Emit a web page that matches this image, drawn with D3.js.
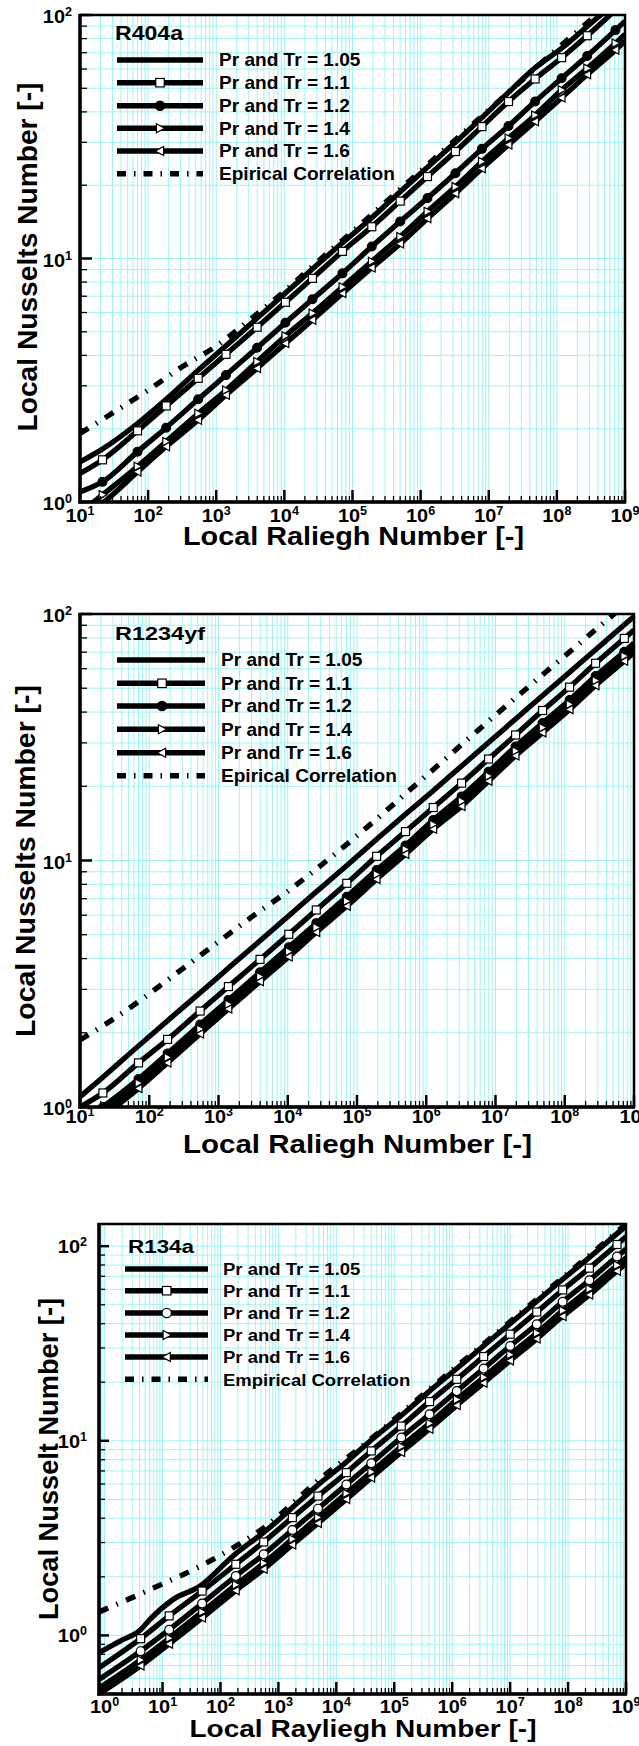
<!DOCTYPE html>
<html>
<head>
<meta charset="utf-8">
<script src="https://cdn.jsdelivr.net/npm/d3@7"></script>
<style>
  html, body { margin: 0; padding: 0; background: #fff; }
  svg { display: block; }
</style>
</head>
<body>
<svg id="fig" width="639" height="1746"></svg>
<script>
// ---------------- data ----------------
// R404a
const raR404a = [10, 21.4, 70.0, 184, 543, 1390, 3980, 10350, 25800, 71300, 192000, 501000, 1260000, 3240000, 7940000, 19500000, 47900000, 117500000, 278600000, 724400000, 1e9];
const nu105R404a = [1.46, 1.65, 2.10, 2.64, 3.48, 4.38, 5.69, 7.21, 9.06, 11.6, 14.7, 18.8, 23.7, 30.0, 37.9, 48.1, 60.7, 73.0, 89.7, 114, 126];
const nu110R404a = [1.31, 1.49, 1.96, 2.48, 3.22, 4.04, 5.22, 6.61, 8.29, 10.7, 13.5, 17.2, 21.7, 27.5, 34.8, 44.1, 54.6, 66.8, 82.2, 105, 115];
const nu120R404a = [1.10, 1.21, 1.61, 2.02, 2.64, 3.32, 4.30, 5.45, 6.80, 8.69, 11.2, 14.2, 17.7, 22.4, 28.2, 35.0, 44.1, 55.0, 67.9, 86.7, 94.4];
const nu140R404a = [0.902, 1.07, 1.40, 1.77, 2.31, 2.88, 3.77, 4.81, 5.96, 7.64, 9.73, 12.3, 15.6, 19.7, 25.0, 31.2, 38.8, 49.2, 60.4, 76.6, 83.4];
const nu160R404a = [0.851, 0.989, 1.33, 1.69, 2.17, 2.75, 3.54, 4.48, 5.59, 7.19, 9.16, 11.5, 14.6, 18.5, 23.4, 29.3, 36.5, 45.7, 56.9, 71.8, 78.2];
const raCorrR404a = [10, 31.6, 100, 316, 1000, 3160, 10000, 31600, 100000, 1e6, 1e7, 1e8, 1e9];
const nuCorrR404a = [1.91, 2.34, 2.88, 3.59, 4.37, 5.62, 7.33, 9.77, 12.9, 22.9, 40.7, 72.4, 126];

// R1234yf
const raR1234yf = [10, 21.4, 70.0, 184, 543, 1390, 3980, 10350, 25800, 71300, 192000, 501000, 1260000, 3240000, 7940000, 19500000, 47900000, 117500000, 278600000, 724400000, 1e9];
const nu105R1234yf = [1.10, 1.32, 1.77, 2.24, 2.91, 3.66, 4.73, 5.97, 7.46, 9.55, 12.2, 15.4, 19.2, 24.2, 30.1, 37.5, 46.7, 58.1, 71.6, 90.4, 97.7];
const nu110R1234yf = [1.00, 1.14, 1.51, 1.88, 2.45, 3.08, 3.97, 5.02, 6.30, 8.08, 10.4, 13.1, 16.4, 20.6, 25.8, 32.3, 40.6, 50.5, 63.1, 79.6, 86.1];
const nu120R1234yf = [0.851, 1.00, 1.30, 1.65, 2.16, 2.72, 3.52, 4.45, 5.57, 7.13, 9.15, 11.5, 14.6, 18.2, 22.9, 29.0, 36.1, 44.8, 56.0, 70.3, 76.2];
const nu140R1234yf = [0.817, 0.959, 1.25, 1.59, 2.07, 2.61, 3.38, 4.27, 5.35, 6.84, 8.78, 11.1, 14.0, 17.4, 22.0, 27.8, 34.6, 43.0, 53.7, 67.5, 73.1];
const nu160R1234yf = [0.780, 0.916, 1.19, 1.51, 1.98, 2.50, 3.23, 4.07, 5.11, 6.53, 8.39, 10.6, 13.4, 16.6, 21.0, 26.6, 33.0, 41.0, 51.3, 64.4, 69.8];
const raCorrR1234yf = [10, 31.6, 100, 316, 1000, 3160, 10000, 31600, 100000, 1e6, 1e7, 1e8, 1e9];
const nuCorrR1234yf = [1.87, 2.29, 2.88, 3.67, 4.68, 5.96, 7.50, 9.66, 12.6, 22.1, 38.9, 67.6, 117];

// R134a
const raR134a = [0.8, 4.18, 13.0, 48.2, 184, 558, 1740, 4820, 14900, 40100, 132000, 406000, 1200000, 3490000, 10000000, 28800000, 80700000, 233000000, 700000000, 1e9];
const nu110R134a = [0.682, 0.962, 1.26, 1.69, 2.32, 3.02, 4.03, 5.20, 6.86, 8.87, 11.9, 15.9, 20.7, 27.1, 35.3, 45.9, 59.6, 77.1, 102, 112];
const nu120R134a = [0.594, 0.830, 1.07, 1.46, 2.02, 2.61, 3.48, 4.48, 5.96, 7.67, 10.4, 13.7, 18.0, 23.5, 30.7, 39.7, 51.8, 66.8, 88.5, 96.6];
const nu140R134a = [0.536, 0.748, 0.968, 1.32, 1.82, 2.35, 3.13, 4.04, 5.37, 6.92, 9.35, 12.3, 16.3, 21.2, 27.7, 35.8, 46.7, 60.3, 79.8, 87.1];
const nu160R134a = [0.500, 0.698, 0.904, 1.23, 1.70, 2.19, 2.92, 3.77, 5.01, 6.46, 8.73, 11.5, 15.2, 19.8, 25.8, 33.4, 43.6, 56.2, 74.5, 81.3];
const ra105R134a = [0.8, 1.84, 4.18, 6.07, 15.2, 44.0, 165, 621, 2330, 5150, 14900, 40100, 132000, 406000, 1200000, 3490000, 10000000, 28800000, 80700000, 233000000, 700000000, 1e9];
const nu105R134a = [0.815, 0.935, 1.07, 1.21, 1.53, 1.79, 2.56, 3.47, 4.90, 6.03, 7.78, 10.1, 13.5, 18.0, 23.5, 30.8, 40.0, 52.1, 67.6, 87.5, 116, 127];
const raCorrR134a = [0.8, 6.07, 74.5, 617, 5130, 31600, 316000, 3160000, 31600000, 316000000, 1e9];
const nuCorrR134a = [1.32, 1.72, 2.46, 3.65, 6.34, 9.68, 17.3, 30.7, 54.6, 96.8, 130];

const seriesLabels = ['Pr and Tr = 1.05', 'Pr and Tr = 1.1', 'Pr and Tr = 1.2', 'Pr and Tr = 1.4', 'Pr and Tr = 1.6'];
const xTickExps = ['0', '1', '2', '3', '4', '5', '6', '7', '8', '9'];

// ---------------- layout ----------------
const FONT = "'Liberation Sans', Arial, Helvetica, sans-serif";
const GRID = '#9ef4f4';

function pairs(ra, nu) { return ra.map((r, i) => [r, nu[i]]); }

const panels = [
  {
    title: 'R404a', left: 80, right: 625, top: 15, bottom: 502,
    xDom: [10, 1e9], yDom: [1, 100],
    series: [
      { label: seriesLabels[0], pts: pairs(raR404a, nu105R404a), mark: null },
      { label: seriesLabels[1], pts: pairs(raR404a, nu110R404a), mark: 'square' },
      { label: seriesLabels[2], pts: pairs(raR404a, nu120R404a), mark: 'circle', fill: '#000' },
      { label: seriesLabels[3], pts: pairs(raR404a, nu140R404a), mark: 'triR' },
      { label: seriesLabels[4], pts: pairs(raR404a, nu160R404a), mark: 'triL' },
      { label: 'Epirical Correlation', pts: pairs(raCorrR404a, nuCorrR404a), mark: null, dash: true }
    ],
    leg: { tx: 115, ty: 40, tlen: 68, tsize: 19.5, rows: [60, 82.7, 105.7, 128.3, 151, 173.7], x0: 117, x1: 203, mx: 160, textX: 219, size: 18, sx: 1.06 },
    xTitle: { text: 'Local Raliegh Number [-]', x: 353.5, y: 545, size: 25, len: 341 },
    yTitle: { text: 'Local Nusselts Number [-]', x: 37, y: 257, size: 28, len: 349 },
    xLabY: 522, yLabX: 72, yLabDy: 8, yTickMajor: 12, yTickMinor: 7
  },
  {
    title: 'R1234yf', left: 80, right: 634, top: 614, bottom: 1107,
    xDom: [10, 1e9], yDom: [1, 100],
    series: [
      { label: seriesLabels[0], pts: pairs(raR1234yf, nu105R1234yf), mark: null },
      { label: seriesLabels[1], pts: pairs(raR1234yf, nu110R1234yf), mark: 'square' },
      { label: seriesLabels[2], pts: pairs(raR1234yf, nu120R1234yf), mark: 'circle', fill: '#000' },
      { label: seriesLabels[3], pts: pairs(raR1234yf, nu140R1234yf), mark: 'triR' },
      { label: seriesLabels[4], pts: pairs(raR1234yf, nu160R1234yf), mark: 'triL' },
      { label: 'Epirical Correlation', pts: pairs(raCorrR1234yf, nuCorrR1234yf), mark: null, dash: true }
    ],
    leg: { tx: 115, ty: 640, tlen: 90, tsize: 19, rows: [660, 683.3, 706, 729.3, 752.7, 775.7], x0: 117, x1: 205, mx: 162, textX: 221, size: 18, sx: 1.06 },
    xTitle: { text: 'Local Raliegh Number [-]', x: 357.5, y: 1153, size: 25.5, len: 349 },
    yTitle: { text: 'Local Nusselts Number [-]', x: 35, y: 861, size: 28, len: 352 },
    xLabY: 1123, yLabX: 72, yLabDy: 8, yTickMajor: 12, yTickMinor: 7
  },
  {
    title: 'R134a', left: 99, right: 626, top: 1224, bottom: 1694,
    xDom: [0.8, 1e9], yDom: [0.5, 130],
    series: [
      { label: seriesLabels[0], pts: pairs(ra105R134a, nu105R134a), mark: null },
      { label: seriesLabels[1], pts: pairs(raR134a, nu110R134a), mark: 'square' },
      { label: seriesLabels[2], pts: pairs(raR134a, nu120R134a), mark: 'circle', fill: '#fff' },
      { label: seriesLabels[3], pts: pairs(raR134a, nu140R134a), mark: 'triR' },
      { label: seriesLabels[4], pts: pairs(raR134a, nu160R134a), mark: 'triL' },
      { label: 'Empirical Correlation', pts: pairs(raCorrR134a, nuCorrR134a), mark: null, dash: true }
    ],
    leg: { tx: 128, ty: 1253, tlen: 66, tsize: 19, rows: [1269, 1290.7, 1313, 1335, 1357, 1379.3], x0: 125, x1: 208, mx: 166.7, textX: 223, size: 17, sx: 1.09 },
    xTitle: { text: 'Local Rayliegh Number [-]', x: 363, y: 1737, size: 23.5, len: 347 },
    yTitle: { text: 'Local Nusselt Number [-]', x: 58, y: 1459, size: 27, len: 322 },
    xLabY: 1713, yLabX: 87, yLabDy: 7, yTickMajor: 10, yTickMinor: 6
  }
];

// ---------------- drawing helpers ----------------
const svg = d3.select('#fig');
const defs = svg.append('defs');

function addText(parent, x, y, str, size, opt = {}) {
  let tf = `translate(${x},${y})`;
  if (opt.rotate) tf += ` rotate(${opt.rotate})`;
  if (opt.sx) tf += ` scale(${opt.sx},1)`;
  const t = parent.append('text')
    .attr('transform', tf)
    .attr('font-family', FONT).attr('font-weight', 'bold')
    .attr('font-size', size).attr('fill', '#000')
    .attr('text-anchor', opt.anchor || 'start');
  if (opt.len) t.attr('textLength', opt.len).attr('lengthAdjust', 'spacingAndGlyphs');
  t.text(str);
  return t;
}

function powLabel(parent, x, y, exp, anchor) {
  const t = parent.append('text')
    .attr('transform', `translate(${x},${y}) scale(1.05,1)`)
    .attr('font-family', FONT).attr('font-weight', 'bold')
    .attr('font-size', 19).attr('fill', '#000')
    .attr('text-anchor', anchor);
  t.append('tspan').text('10');
  t.append('tspan').attr('font-size', 12).attr('dy', -7).text(exp);
}

function drawMarker(parent, type, cx, cy, s, fill) {
  const h = s / 2;
  let el;
  if (type === 'square') {
    el = parent.append('rect').attr('x', cx - h).attr('y', cy - h).attr('width', s).attr('height', s);
  } else if (type === 'circle') {
    el = parent.append('circle').attr('cx', cx).attr('cy', cy).attr('r', h * 1.1);
  } else if (type === 'triR') {
    el = parent.append('path').attr('d', `M${cx - h * 0.85},${cy - h * 1.05}L${cx + h * 1.1},${cy}L${cx - h * 0.85},${cy + h * 1.05}Z`);
  } else if (type === 'triL') {
    el = parent.append('path').attr('d', `M${cx + h * 0.85},${cy - h * 1.05}L${cx - h * 1.1},${cy}L${cx + h * 0.85},${cy + h * 1.05}Z`);
  }
  el.attr('fill', fill || '#fff').attr('stroke', '#000').attr('stroke-width', 1.2);
}

const isMajor = v => Math.abs(Math.log10(v) - Math.round(Math.log10(v))) < 1e-9;

// ---------------- panels ----------------
panels.forEach((p, pi) => {
  const x = d3.scaleLog().domain(p.xDom).range([p.left, p.right]);
  const y = d3.scaleLog().domain(p.yDom).range([p.bottom, p.top]);
  const g = svg.append('g');

  const clipId = 'plotclip' + pi;
  defs.append('clipPath').attr('id', clipId)
    .append('rect').attr('x', p.left).attr('y', p.top)
    .attr('width', p.right - p.left).attr('height', p.bottom - p.top);

  const xt = x.ticks(20).filter(v => v >= p.xDom[0] && v <= p.xDom[1]);
  const yt = y.ticks(20).filter(v => v >= p.yDom[0] && v <= p.yDom[1]);

  // grid
  const grid = g.append('g').attr('stroke', GRID).attr('stroke-width', 1);
  grid.selectAll('line.vx').data(xt).join('line').attr('class', 'vx')
    .attr('x1', d => x(d)).attr('x2', d => x(d)).attr('y1', p.top).attr('y2', p.bottom);
  grid.selectAll('line.hy').data(yt).join('line').attr('class', 'hy')
    .attr('x1', p.left).attr('x2', p.right).attr('y1', d => y(d)).attr('y2', d => y(d));

  // legend (over the grid, under the data)
  const L = p.leg;
  const lg = g.append('g');
  addText(lg, L.tx, L.ty, p.title, L.tsize, { len: L.tlen });
  p.series.forEach((s, i) => {
    const ry = L.rows[i];
    const ln = lg.append('line').attr('x1', L.x0).attr('x2', L.x1).attr('y1', ry).attr('y2', ry)
      .attr('stroke', '#000').attr('stroke-width', 5.5);
    if (s.dash) ln.attr('stroke-dasharray', '9,8,1.5,8');
    if (s.mark) drawMarker(lg, s.mark, L.mx, ry, 8.5, s.fill);
    addText(lg, L.textX, ry + 6.3, s.label, L.size, { sx: L.sx });
  });

  // data lines
  const line = d3.line().x(d => x(d[0])).y(d => y(d[1])).curve(d3.curveMonotoneX);
  const data = g.append('g').attr('clip-path', `url(#${clipId})`);
  p.series.forEach(s => {
    const path = data.append('path').datum(s.pts).attr('d', line)
      .attr('fill', 'none').attr('stroke', '#000').attr('stroke-width', 5.3)
      .attr('stroke-linejoin', 'round');
    if (s.dash) path.attr('stroke-dasharray', '10,9,1.5,9');
  });
  // symbols at the interior sample points
  p.series.forEach(s => {
    if (!s.mark) return;
    s.pts.slice(1, -1).forEach(d => drawMarker(data, s.mark, x(d[0]), y(d[1]), 8, s.fill));
  });

  // frame
  g.append('rect').attr('x', p.left).attr('y', p.top)
    .attr('width', p.right - p.left).attr('height', p.bottom - p.top)
    .attr('fill', 'none').attr('stroke', '#000').attr('stroke-width', 2.5);
  g.append('line').attr('x1', p.left).attr('x2', p.left).attr('y1', p.top - 1).attr('y2', p.bottom + 1.5)
    .attr('stroke', '#000').attr('stroke-width', 3.5);
  g.append('line').attr('x1', p.left - 1.5).attr('x2', p.right + 1).attr('y1', p.bottom).attr('y2', p.bottom)
    .attr('stroke', '#000').attr('stroke-width', 3.5);

  // inward ticks
  const tk = g.append('g').attr('stroke', '#000');
  tk.selectAll('line.tx').data(xt).join('line').attr('class', 'tx')
    .attr('x1', d => x(d)).attr('x2', d => x(d))
    .attr('y1', p.bottom).attr('y2', d => p.bottom - (isMajor(d) ? 12 : 6))
    .attr('stroke-width', d => isMajor(d) ? 2.5 : 1.3);
  tk.selectAll('line.ty').data(yt).join('line').attr('class', 'ty')
    .attr('y1', d => y(d)).attr('y2', d => y(d))
    .attr('x1', p.left).attr('x2', d => p.left + (isMajor(d) ? p.yTickMajor : p.yTickMinor))
    .attr('stroke-width', d => isMajor(d) ? 2.5 : 1.3);

  // tick labels
  const tl = g.append('g');
  xt.filter(isMajor).forEach(v => {
    const e = Math.round(Math.log10(v));
    powLabel(tl, x(v), p.xLabY, xTickExps[e], 'middle');
  });
  yt.filter(isMajor).forEach(v => {
    const e = Math.round(Math.log10(v));
    powLabel(tl, p.yLabX, y(v) + p.yLabDy, String(e), 'end');
  });

  // axis titles
  addText(g, p.xTitle.x, p.xTitle.y, p.xTitle.text, p.xTitle.size, { anchor: 'middle', len: p.xTitle.len });
  addText(g, p.yTitle.x, p.yTitle.y, p.yTitle.text, p.yTitle.size, { anchor: 'middle', rotate: -90, len: p.yTitle.len });
});
</script>
</body>
</html>
